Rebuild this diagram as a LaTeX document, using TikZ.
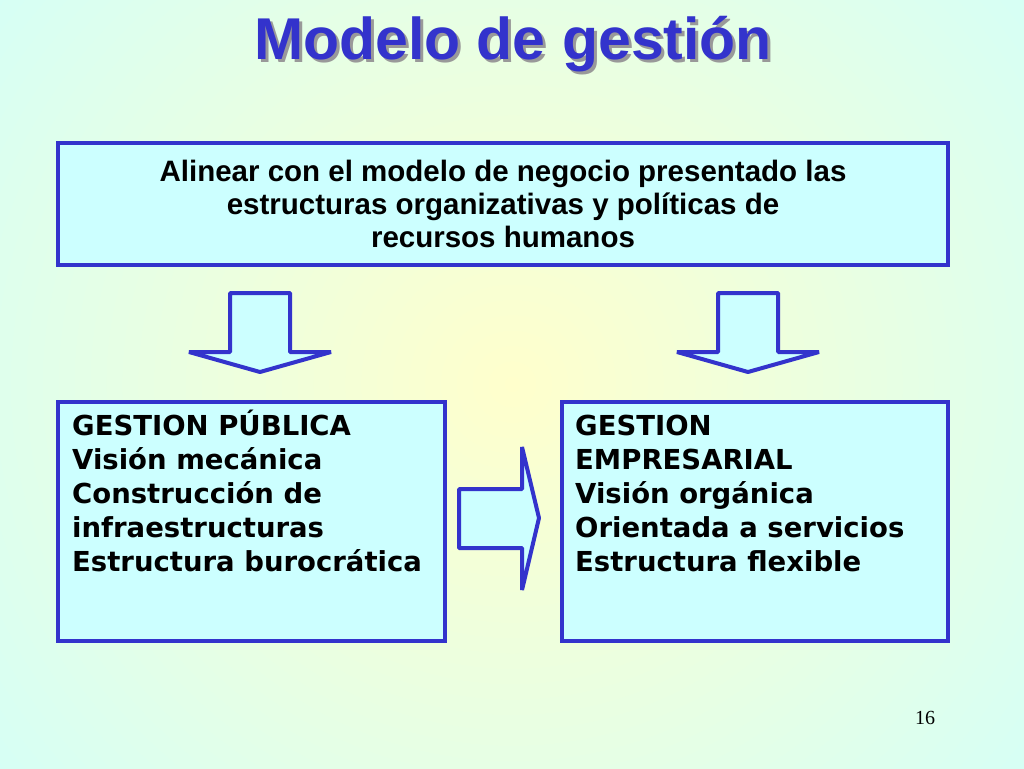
\documentclass[tikz,border=0pt]{standalone}
\usepackage{fontspec}
\setmainfont{Liberation Serif}
\newfontfamily\dv{DejaVu Sans}
\newfontfamily\ls{Liberation Sans}
\definecolor{bl}{HTML}{3333CC}
\definecolor{bx}{HTML}{CCFFFF}
\definecolor{bgc}{HTML}{CCFFFF}
\definecolor{bgy}{HTML}{FFFFCC}
\begin{document}
\begin{tikzpicture}[x=1pt,y=-1pt,
  box/.style={draw=bl,line width=4.5pt,fill=bx},
  arr/.style={draw=bl,line width=4pt,fill=bx,line join=bevel}]
\useasboundingbox (0,0) rectangle (1024,768);
\shade[inner color=bgy,outer color=bgc] (-300,-400) rectangle (1324,1168);
\node[font=\ls\bfseries\fontsize{59}{59}\selectfont,text=black!40] (ts) at (516,47) {Modelo de gestión};
\node[font=\ls\bfseries\fontsize{59}{59}\selectfont,text=bl] (t) at (513,44) {Modelo de gestión};
\draw[box] (58,143) rectangle (948,265);
\node[font=\ls\bfseries\fontsize{29.5}{33}\selectfont,align=center] (top) at (503,204)
 {Alinear con el modelo de negocio presentado las\\estructuras organizativas y políticas de\\recursos humanos};
\draw[box] (58,402) rectangle (445,641);
\draw[box] (562,402) rectangle (948,641);
\node[font=\dv\bfseries\fontsize{27.5}{34}\selectfont,align=left,anchor=north west,inner sep=0pt] (l) at (72,410)
 {GESTION PÚBLICA\\Visión mecánica\\Construcción de\\infraestructuras\\Estructura burocrática};
\node[font=\dv\bfseries\fontsize{27.5}{34}\selectfont,align=left,anchor=north west,inner sep=0pt] (r) at (575,415)
 {GESTION\\EMPRESARIAL\\Visión orgánica\\Orientada a servicios\\Estructura flexible};
\draw[arr] (230,293) -- (290,293) -- (290,352) -- (331,352) -- (260,372) -- (189,352) -- (230,352) -- cycle;
\draw[arr] (718,293) -- (778,293) -- (778,352) -- (819,352) -- (748,372) -- (677,352) -- (718,352) -- cycle;
\draw[arr] (459,489) -- (522,489) -- (522,447) -- (539,518) -- (522,590) -- (522,548) -- (459,548) -- cycle;
\node[font=\fontsize{20}{20}\selectfont] (n) at (925,718) {16};
\end{tikzpicture}
\end{document}
